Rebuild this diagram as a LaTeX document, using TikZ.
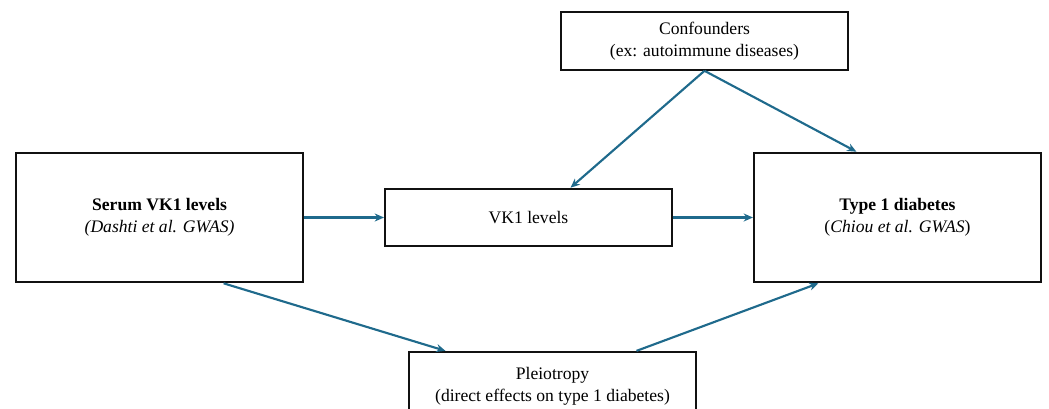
\documentclass[tikz,border=0pt]{standalone}
\usepackage{fontspec}
\setmainfont{Liberation Serif}
\usetikzlibrary{arrows.meta, calc, positioning}
\definecolor{arrowteal}{HTML}{1F6A8C}
\definecolor{boxblack}{HTML}{111111}
\tikzset{
  % Exposure / outcome boxes
  bigbox/.style={
    draw=boxblack, fill=white, line width=1.7pt,
    minimum width=215pt, minimum height=97pt,
    font=\fontsize{13.2}{16.5}\selectfont, align=center,
    inner sep=4pt,
  },
  % Mediator / confounder boxes
  smallbox/.style={
    draw=boxblack, fill=white, line width=1.7pt,
    minimum width=215pt, minimum height=43pt,
    font=\fontsize{13.2}{16.5}\selectfont, align=center,
    inner sep=4pt,
  },
  % Arrows
  arr/.style={-{Stealth[length=7pt, width=6pt]}, line width=1.6pt, arrowteal},
}
\begin{document}
\begin{tikzpicture}[x=0.75pt, y=-0.75pt]
  \useasboundingbox (0,0) rectangle (1049,408);
  \node[smallbox] (vk1) at (528.5,217.5) {VK1 levels};
  \node[bigbox, left=60pt of vk1] (serum)
    {\textbf{Serum VK1 levels}\\\textit{(Dashti et al. GWAS)}};
  \node[bigbox, right=60pt of vk1] (t1d)
    {\textbf{Type 1 diabetes}\\(\textit{Chiou et al. GWAS})};
  \node[smallbox] (conf) at (704.5,41)
    {Confounders\\(ex: autoimmune diseases)};
  \node[smallbox, minimum height=51pt] (pleio) at (552.5,386)
    {Pleiotropy\\(direct effects on type 1 diabetes)};
  \draw[arr] (serum) -- (vk1);
  \draw[arr] (vk1) -- (t1d);
  \draw[arr] (conf.south) -- ($(vk1.north)+(42,0)$);
  \draw[arr] (conf.south) -- ($(t1d.north)+(-41,0)$);
  \draw[arr] ($(serum.south)+(64,0)$) -- ($(pleio.north)+(-107,0)$);
  \draw[arr] ($(pleio.north)+(84,0)$) -- ($(t1d.south)+(-79,0)$);
\end{tikzpicture}
\end{document}
